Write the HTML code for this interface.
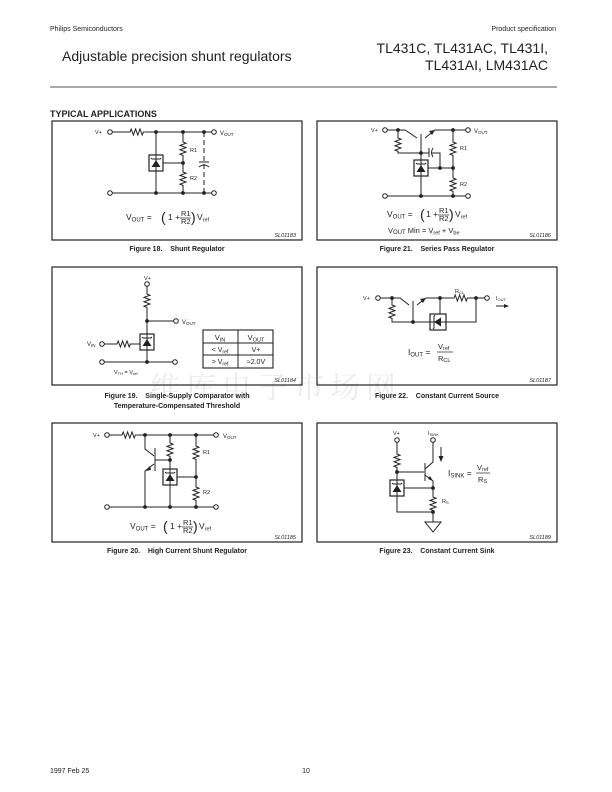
<!DOCTYPE html>
<html><head><meta charset="utf-8"><style>
html,body{margin:0;padding:0;background:#fff}
svg{display:block}
text{font-family:"Liberation Sans","Noto Sans CJK SC",sans-serif;fill:#222}
</style></head><body>
<svg width="612" height="792" viewBox="0 0 612 792" xmlns="http://www.w3.org/2000/svg">
<defs>
<path id="rv" d="M0,0 l0,2 l3,1.2 l-6,2.2 l6,2.2 l-6,2.2 l6,2.2 l-6,2.2 l3,1.2 l0,1.4" fill="none" stroke="#222" stroke-width="1"/>
<path id="rh" d="M0,0 l2,0 l1.2,-3 l2.2,6 l2.2,-6 l2.2,6 l2.2,-6 l2.2,6 l1.2,-3 l1.4,0" fill="none" stroke="#222" stroke-width="1"/>
<g id="tl">
<rect x="-7" y="-8" width="14" height="16" fill="#fff" stroke="#222" stroke-width="1.2"/>
<line x1="0" y1="-8" x2="0" y2="8" stroke="#222"/>
<polygon points="-4.5,4 4.5,4 0,-3" fill="#222"/>
<path d="M-5,-5 l1,1 M-4,-4 l8,0 l1,-1" stroke="#222" fill="none"/>
</g>
<circle id="oc" r="2.3" fill="#fff" stroke="#222" stroke-width="1"/>
<circle id="nd" r="1.9" fill="#222"/>
</defs>

<!-- header -->
<text x="50" y="31" font-size="7">Philips Semiconductors</text>
<text x="556" y="31" font-size="7" text-anchor="end">Product specification</text>
<text x="62" y="61" font-size="14">Adjustable precision shunt regulators</text>
<text x="548" y="53" font-size="14" text-anchor="end">TL431C, TL431AC, TL431I,</text>
<text x="548" y="70" font-size="14" text-anchor="end">TL431AI, LM431AC</text>
<line x1="50" y1="87" x2="557" y2="87" stroke="#555" stroke-width="1"/>
<text x="50" y="117" font-size="9" font-weight="bold">TYPICAL APPLICATIONS</text>

<!-- watermark -->
<text x="150" y="398" font-size="30" style="fill:#ececec;font-family:'Noto Serif CJK SC',serif" letter-spacing="6">维库电子市场网</text>

<g stroke="#222" stroke-width="1" fill="none">
<rect x="52" y="121" width="250" height="119" stroke-width="1.2"/>
<rect x="317" y="121" width="240" height="119" stroke-width="1.2"/>
<rect x="52" y="267" width="250" height="118" stroke-width="1.2"/>
<rect x="317" y="267" width="240" height="118" stroke-width="1.2"/>
<rect x="52" y="423" width="250" height="119" stroke-width="1.2"/>
<rect x="317" y="423" width="240" height="119" stroke-width="1.2"/>
</g>

<!-- Fig 18 -->
<g stroke="#222" stroke-width="1" fill="none">
<path d="M112,132 H128 M145,132 H212 M112,193 H212 M156,132 V193 M183,132 V140 M183,155 V170 M183,185 V193 M163,163 H183"/>
<path d="M204,132 V193" stroke-dasharray="5,3"/>
<path d="M199,162 H209 M199,167 Q204,163 209,167" />
</g>
<use href="#rh" x="128" y="132"/><use href="#rv" x="183" y="140"/><use href="#rv" x="183" y="170"/>
<use href="#tl" x="156" y="163"/>
<use href="#nd" x="156" y="132"/><use href="#nd" x="183" y="132"/><use href="#nd" x="204" y="132"/>
<use href="#nd" x="183" y="163"/>
<use href="#nd" x="156" y="193"/><use href="#nd" x="183" y="193"/><use href="#nd" x="204" y="193"/>
<use href="#oc" x="110" y="132"/><use href="#oc" x="214" y="132"/><use href="#oc" x="110" y="193"/><use href="#oc" x="214" y="193"/>
<text x="95" y="134" font-size="5.5">V+</text>
<text x="220" y="135" font-size="6">V<tspan font-size="4.5" dy="1">OUT</tspan></text>
<text x="190" y="152" font-size="5.5">R1</text><text x="190" y="180" font-size="5.5">R2</text>
<text x="126" y="220" font-size="8.5">V<tspan font-size="6" dy="1.5">OUT</tspan><tspan dy="-1.5"> = </tspan></text>
<text x="161" y="222" font-size="14">(</text>
<text x="168" y="220" font-size="8.5">1 +</text>
<text x="181" y="216" font-size="7.5">R1</text><line x1="180" y1="218" x2="191" y2="218" stroke="#222" stroke-width="0.7"/><text x="181" y="224" font-size="7.5">R2</text>
<text x="191" y="222" font-size="14">)</text>
<text x="197" y="220" font-size="8.5">V<tspan font-size="5.5" dy="1.5">ref</tspan></text>
<text x="296" y="237" font-size="5.5" text-anchor="end" font-style="italic">SL01183</text>
<text x="177" y="251" font-size="7" font-weight="bold" text-anchor="middle">Figure 18.&#160;&#160;&#160; Shunt Regulator</text>

<!-- Fig 21 -->
<g stroke="#222" stroke-width="1" fill="none">
<path d="M387,130 H405 L417,138 M421,134 V144 M421,140 V160 M425,138 L435,130 H466 M398,130 V136 M398,151 V153 H421 M421,175 V196 M387,196 H466"/>
<path d="M421,153 H429 M429,148 V157 M433,148 Q430,152.5 433,157 M432,153 H440 V168"/>
<path d="M428,168 H453 M453,130 V140 M453,155 V176 M453,191 V196"/>
</g>
<polygon points="435,130 429,131 432,135" fill="#222"/>
<use href="#rv" x="398" y="136"/><use href="#rv" x="453" y="140"/><use href="#rv" x="453" y="176"/>
<use href="#tl" x="421" y="168"/>
<use href="#nd" x="398" y="130"/><use href="#nd" x="453" y="130"/><use href="#nd" x="421" y="153"/><use href="#nd" x="440" y="168"/><use href="#nd" x="453" y="168"/><use href="#nd" x="421" y="196"/><use href="#nd" x="453" y="196"/>
<use href="#oc" x="385" y="130"/><use href="#oc" x="468" y="130"/><use href="#oc" x="385" y="196"/><use href="#oc" x="468" y="196"/>
<text x="371" y="132" font-size="5.5">V+</text>
<text x="474" y="133" font-size="6">V<tspan font-size="4.5" dy="1">OUT</tspan></text>
<text x="460" y="150" font-size="5.5">R1</text><text x="460" y="186" font-size="5.5">R2</text>
<text x="387" y="217" font-size="8.5">V<tspan font-size="6" dy="1.5">OUT</tspan><tspan dy="-1.5"> = </tspan></text>
<text x="420" y="219" font-size="14">(</text>
<text x="426" y="217" font-size="8.5">1 +</text>
<text x="439" y="213" font-size="7.5">R1</text><line x1="438" y1="215" x2="449" y2="215" stroke="#222" stroke-width="0.7"/><text x="439" y="221" font-size="7.5">R2</text>
<text x="449" y="219" font-size="14">)</text>
<text x="455" y="217" font-size="8.5">V<tspan font-size="5.5" dy="1.5">ref</tspan></text>
<text x="388" y="233" font-size="7.5">V<tspan font-size="6" dy="1">OUT</tspan><tspan dy="-1"> Min = V</tspan><tspan font-size="5.5" dy="1.5">ref</tspan><tspan dy="-1.5"> + V</tspan><tspan font-size="5.5" dy="1.5">be</tspan></text>
<text x="551" y="237" font-size="5.5" text-anchor="end" font-style="italic">SL01186</text>
<text x="437" y="251" font-size="7" font-weight="bold" text-anchor="middle">Figure 21.&#160;&#160;&#160; Series Pass Regulator</text>

<!-- Fig 19 -->
<g stroke="#222" stroke-width="1" fill="none">
<path d="M147,286 V292 M147,307 V334 M147,321 H174 M104,344 H115 M130,344 H141 M147,349 V362 M104,362 H173"/>
<rect x="203" y="330" width="70" height="38" stroke-width="1.1"/>
<path d="M203,343 H273 M203,355 H273 M238,330 V368"/>
</g>
<use href="#rv" x="147" y="292"/><use href="#rh" x="115" y="344"/>
<use href="#tl" x="147" y="342"/>
<use href="#nd" x="147" y="321"/><use href="#nd" x="147" y="362"/>
<use href="#oc" x="147" y="284"/><use href="#oc" x="176" y="321"/><use href="#oc" x="102" y="344"/><use href="#oc" x="102" y="362"/><use href="#oc" x="175" y="362"/>
<text x="144" y="280" font-size="5.5">V+</text>
<text x="182" y="324" font-size="6">V<tspan font-size="4.5" dy="1">OUT</tspan></text>
<text x="87" y="346" font-size="6">V<tspan font-size="4.5" dy="1">IN</tspan></text>
<text x="114" y="374" font-size="5.5">V<tspan font-size="4" dy="1">TH</tspan><tspan dy="-1"> = V</tspan><tspan font-size="4" dy="1">ref</tspan></text>
<text x="220" y="340" font-size="7.5" text-anchor="middle">V<tspan font-size="5.5" dy="1.5">IN</tspan></text>
<text x="256" y="340" font-size="7.5" text-anchor="middle">V<tspan font-size="5.5" dy="1.5">OUT</tspan></text>
<text x="220" y="352" font-size="7" text-anchor="middle">&lt; V<tspan font-size="5" dy="1.5">ref</tspan></text>
<text x="256" y="352" font-size="7" text-anchor="middle">V+</text>
<text x="220" y="364" font-size="7" text-anchor="middle">&gt; V<tspan font-size="5" dy="1.5">ref</tspan></text>
<text x="256" y="364" font-size="7" text-anchor="middle">≈2.0V</text>
<text x="296" y="382" font-size="5.5" text-anchor="end" font-style="italic">SL01184</text>
<text x="177" y="398" font-size="7" font-weight="bold" text-anchor="middle">Figure 19.&#160;&#160;&#160; Single-Supply Comparator with</text>
<text x="177" y="408" font-size="7" font-weight="bold" text-anchor="middle">Temperature-Compensated Threshold</text>

<!-- Fig 22 -->
<g stroke="#222" stroke-width="1" fill="none">
<path d="M380,298 H400 L409,305 M413,301 V315 M413,308 V322 M417,305 L426,298 H452 M467,298 H485 M392,298 V303 M392,318 V322 H430 M446,322 H476 V298 M440,298 V314"/>
<rect x="430" y="314" width="16" height="16" fill="#fff" stroke-width="1.2"/>
<path d="M430,322 H446 M434,316 V328 l-1,1 M434,316 l1,-1"/>
</g>
<polygon points="434,322 441,317.5 441,326.5" fill="#222"/>
<polygon points="426,298 420,299 423,303" fill="#222"/>
<use href="#rh" x="452" y="298"/><use href="#rv" x="392" y="303"/>
<use href="#nd" x="392" y="298"/><use href="#nd" x="440" y="298"/><use href="#nd" x="476" y="298"/><use href="#nd" x="413" y="322"/>
<use href="#oc" x="378" y="298"/><use href="#oc" x="487" y="298"/>
<text x="363" y="300" font-size="5.5">V+</text>
<text x="455" y="293" font-size="5.5">R<tspan font-size="4" dy="1">CL</tspan></text>
<text x="496" y="300" font-size="5.5">I<tspan font-size="4" dy="1">OUT</tspan></text>
<path d="M496,306 H506" stroke="#222" stroke-width="1"/><polygon points="509,306 504,304 504,308" fill="#222"/>
<text x="408" y="355" font-size="8.5">I<tspan font-size="6" dy="1.5">OUT</tspan><tspan dy="-1.5"> = </tspan></text>
<text x="438" y="349" font-size="7.5">V<tspan font-size="5.5" dy="1">ref</tspan></text>
<line x1="437" y1="352" x2="453" y2="352" stroke="#222" stroke-width="0.7"/>
<text x="438" y="361" font-size="7.5">R<tspan font-size="5.5" dy="1">CL</tspan></text>
<text x="551" y="382" font-size="5.5" text-anchor="end" font-style="italic">SL01187</text>
<text x="437" y="398" font-size="7" font-weight="bold" text-anchor="middle">Figure 22.&#160;&#160;&#160; Constant Current Source</text>

<!-- Fig 20 -->
<g stroke="#222" stroke-width="1" fill="none">
<path d="M109,435 H120 M137,435 H214 M145,435 V449 L154,456 M155,448 V471 M155,460 H170 M154,464 L145,471 V507 M170,435 V441 M170,456 V469 M170,485 V507 M177,477 H196 M196,435 V444 M196,459 V485 M196,500 V507 M109,507 H214"/>
</g>
<polygon points="145,471 150,466 151,470" fill="#222"/>
<use href="#rh" x="120" y="435"/><use href="#rv" x="170" y="441"/><use href="#rv" x="196" y="444"/><use href="#rv" x="196" y="485"/>
<use href="#tl" x="170" y="477"/>
<use href="#nd" x="145" y="435"/><use href="#nd" x="170" y="435"/><use href="#nd" x="196" y="435"/><use href="#nd" x="170" y="460"/><use href="#nd" x="196" y="477"/>
<use href="#nd" x="145" y="507"/><use href="#nd" x="170" y="507"/><use href="#nd" x="196" y="507"/>
<use href="#oc" x="107" y="435"/><use href="#oc" x="216" y="435"/><use href="#oc" x="107" y="507"/><use href="#oc" x="216" y="507"/>
<text x="93" y="437" font-size="5.5">V+</text>
<text x="223" y="438" font-size="6">V<tspan font-size="4.5" dy="1">OUT</tspan></text>
<text x="203" y="454" font-size="5.5">R1</text><text x="203" y="494" font-size="5.5">R2</text>
<text x="130" y="529" font-size="8.5">V<tspan font-size="6" dy="1.5">OUT</tspan><tspan dy="-1.5"> = </tspan></text>
<text x="163" y="531" font-size="14">(</text>
<text x="170" y="529" font-size="8.5">1 +</text>
<text x="183" y="525" font-size="7.5">R1</text><line x1="182" y1="527" x2="193" y2="527" stroke="#222" stroke-width="0.7"/><text x="183" y="533" font-size="7.5">R2</text>
<text x="193" y="531" font-size="14">)</text>
<text x="199" y="529" font-size="8.5">V<tspan font-size="5.5" dy="1.5">ref</tspan></text>
<text x="296" y="539" font-size="5.5" text-anchor="end" font-style="italic">SL01185</text>
<text x="177" y="553" font-size="7" font-weight="bold" text-anchor="middle">Figure 20.&#160;&#160;&#160; High Current Shunt Regulator</text>

<!-- Fig 23 -->
<g stroke="#222" stroke-width="1" fill="none">
<path d="M397,442 V452 M397,467 V480 M397,472 H424 M425,463 V481 M425,469 L433,462 V442 M425,475 L433,481 V495 M397,496 V512 H433 M404,488 H433 M433,510 V522"/>
<polygon points="425,522 441,522 433,532"/>
<path d="M441,447 V458"/>
</g>
<polygon points="441,462 438.5,456 443.5,456" fill="#222"/>
<polygon points="433,481 428,479 430,476" fill="#222"/>
<use href="#rv" x="397" y="452"/><use href="#rv" x="433" y="495"/>
<use href="#tl" x="397" y="488"/>
<use href="#nd" x="397" y="472"/><use href="#nd" x="433" y="488"/><use href="#nd" x="433" y="512"/>
<use href="#oc" x="397" y="440"/><use href="#oc" x="433" y="440"/>
<text x="393" y="435" font-size="5.5">V+</text>
<text x="428" y="435" font-size="5.5">I<tspan font-size="4" dy="1">SINK</tspan></text>
<text x="442" y="503" font-size="5.5">R<tspan font-size="4" dy="1">S</tspan></text>
<text x="448" y="476" font-size="8.5">I<tspan font-size="6" dy="1.5">SINK</tspan><tspan dy="-1.5"> = </tspan></text>
<text x="477" y="470" font-size="7.5">V<tspan font-size="5.5" dy="1">ref</tspan></text>
<line x1="476" y1="473" x2="490" y2="473" stroke="#222" stroke-width="0.7"/>
<text x="478" y="482" font-size="7.5">R<tspan font-size="5.5" dy="1">S</tspan></text>
<text x="551" y="539" font-size="5.5" text-anchor="end" font-style="italic">SL01189</text>
<text x="437" y="553" font-size="7" font-weight="bold" text-anchor="middle">Figure 23.&#160;&#160;&#160; Constant Current Sink</text>

<!-- footer -->
<text x="50" y="773" font-size="7">1997 Feb 25</text>
<text x="306" y="773" font-size="7" text-anchor="middle">10</text>
</svg>
</body></html>
